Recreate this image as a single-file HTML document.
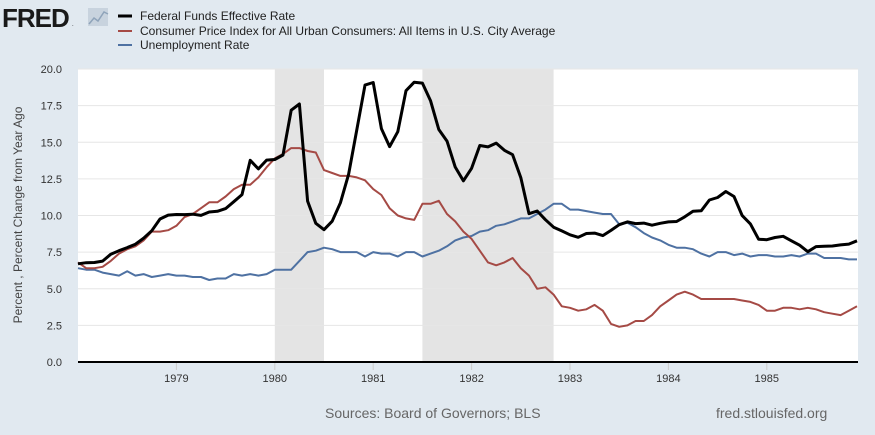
<!DOCTYPE html>
<html><head><meta charset="utf-8"><style>
html,body{margin:0;padding:0;background:#e1e9f0;}
body{width:875px;height:435px;overflow:hidden;font-family:"Liberation Sans",Arial,sans-serif;}
</style></head><body>
<svg id="chart" width="875" height="435" xmlns="http://www.w3.org/2000/svg" style="display:block">
<rect x="0" y="0" width="875" height="435" fill="#e1e9f0"/>
<g>
<text x="2" y="27" font-size="26" font-weight="bold" fill="#1a1a1a" font-family="Liberation Sans, sans-serif" letter-spacing="-1">FRED</text>
<text x="72" y="26" font-size="6" fill="#1a1a1a">.</text>
<rect x="88" y="8" width="20" height="18" fill="#c8d3de"/>
<polyline points="89,24 94,18 98,21 104,12 108,14" fill="none" stroke="#8fa4ba" stroke-width="1.5"/>
</g>
<g font-size="12" fill="#222">
<g><line x1="118" y1="16" x2="132" y2="16" stroke="#000" stroke-width="3"/><text x="140" y="20">Federal Funds Effective Rate</text></g>
<g><line x1="118" y1="31" x2="132" y2="31" stroke="#a54a45" stroke-width="2"/><text x="140" y="35">Consumer Price Index for All Urban Consumers: All Items in U.S. City Average</text></g>
<g><line x1="118" y1="45" x2="132" y2="45" stroke="#4e71a2" stroke-width="2"/><text x="140" y="49">Unemployment Rate</text></g>
</g>
<rect x="78" y="69" width="780" height="293" fill="#fff"/>
<g id="rec"></g><g id="grid"></g><g id="series"></g><g id="axes"></g>
<text transform="translate(22,215) rotate(-90)" text-anchor="middle" font-size="12" fill="#444">Percent , Percent Change from Year Ago</text>
<text x="325" y="418" font-size="14" fill="#666">Sources: Board of Governors; BLS</text>
<text x="716" y="418" font-size="14" fill="#666">fred.stlouisfed.org</text>
</svg>
<script>
const fedfunds=[6.70,6.78,6.79,6.89,7.36,7.60,7.81,8.04,8.45,8.96,9.76,10.03,
10.07,10.06,10.09,10.01,10.24,10.29,10.47,10.94,11.43,13.77,13.18,13.78,
13.82,14.13,17.19,17.61,10.98,9.47,9.03,9.61,10.87,12.81,15.85,18.90,
19.08,15.93,14.70,15.72,18.52,19.10,19.04,17.82,15.87,15.08,13.31,12.37,
13.22,14.78,14.68,14.94,14.45,14.15,12.59,10.12,10.31,9.71,9.20,8.95,
8.68,8.51,8.77,8.80,8.63,8.98,9.37,9.56,9.45,9.48,9.34,9.47,
9.56,9.59,9.91,10.29,10.32,11.06,11.23,11.64,11.30,9.99,9.43,8.38,
8.35,8.50,8.58,8.27,7.97,7.53,7.88,7.90,7.92,7.99,8.05,8.27];
const cpi=[6.8,6.4,6.4,6.5,6.9,7.4,7.7,7.9,8.3,8.9,8.9,9.0,
9.3,9.9,10.1,10.5,10.9,10.9,11.3,11.8,12.1,12.1,12.6,13.3,
13.9,14.2,14.6,14.6,14.4,14.3,13.1,12.9,12.7,12.7,12.6,12.4,
11.8,11.4,10.5,10.0,9.8,9.7,10.8,10.8,11.0,10.1,9.6,8.9,
8.4,7.6,6.8,6.6,6.8,7.1,6.4,5.9,5.0,5.1,4.6,3.8,
3.7,3.5,3.6,3.9,3.5,2.6,2.4,2.5,2.8,2.8,3.2,3.8,
4.2,4.6,4.8,4.6,4.3,4.3,4.3,4.3,4.3,4.2,4.1,3.9,
3.5,3.5,3.7,3.7,3.6,3.7,3.6,3.4,3.3,3.2,3.5,3.8];
const unrate=[6.4,6.3,6.3,6.1,6.0,5.9,6.2,5.9,6.0,5.8,5.9,6.0,
5.9,5.9,5.8,5.8,5.6,5.7,5.7,6.0,5.9,6.0,5.9,6.0,
6.3,6.3,6.3,6.9,7.5,7.6,7.8,7.7,7.5,7.5,7.5,7.2,
7.5,7.4,7.4,7.2,7.5,7.5,7.2,7.4,7.6,7.9,8.3,8.5,
8.6,8.9,9.0,9.3,9.4,9.6,9.8,9.8,10.1,10.4,10.8,10.8,
10.4,10.4,10.3,10.2,10.1,10.1,9.4,9.5,9.2,8.8,8.5,8.3,
8.0,7.8,7.8,7.7,7.4,7.2,7.5,7.5,7.3,7.4,7.2,7.3,
7.3,7.2,7.2,7.3,7.2,7.4,7.4,7.1,7.1,7.1,7.0,7.0];
const yTicks=[0,2.5,5,7.5,10,12.5,15,17.5,20];
const yearLabels=[1979,1980,1981,1982,1983,1984,1985];
const recessions=[[24,30],[42,58]];
const NS="http://www.w3.org/2000/svg";
const X0=78,PX=8.2,Y0=362,PY=293/20;
function xs(i){return X0+i*PX;}
function ys(v){return Y0-v*PY;}
function mk(tag,attrs,parent){const e=document.createElementNS(NS,tag);for(const k in attrs)e.setAttribute(k,attrs[k]);document.getElementById(parent).appendChild(e);return e;}
recessions.forEach(r=>{const e=mk('rect',{x:xs(r[0]),y:69,width:xs(r[1])-xs(r[0]),height:293,fill:'#e4e4e4'},'rec');

});
yTicks.forEach(t=>{if(t>0){const g=mk('line',{x1:78,x2:858,y1:ys(t),y2:ys(t),stroke:'#e6e6e6','stroke-width':1},'grid');

}
const l=mk('text',{x:62,y:ys(t)+4,'text-anchor':'end','font-size':11,fill:'#333'},'axes');l.textContent=t.toFixed(1);

});
yearLabels.forEach(y=>{const i=(y-1978)*12;
const tk=mk('line',{x1:xs(i),x2:xs(i),y1:362,y2:370,stroke:'#ccc'},'axes');


const l=mk('text',{x:xs(i),y:382,'text-anchor':'middle','font-size':11,fill:'#333'},'axes');l.textContent=y;

});
const ax=mk('line',{x1:78,x2:858,y1:362,y2:362,stroke:'#000','stroke-width':2},'axes');


[[unrate,'#4e71a2',2,'unemployment-rate-line'],[cpi,'#a54a45',2,'cpi-line'],[fedfunds,'#000',3,'fed-funds-line']].forEach(s=>{
const p=mk('polyline',{points:s[0].map((v,i)=>xs(i).toFixed(1)+','+ys(v).toFixed(1)).join(' '),fill:'none',stroke:s[1],'stroke-width':s[2],'stroke-linejoin':'round'},'series');

});
</script>
</body></html>
